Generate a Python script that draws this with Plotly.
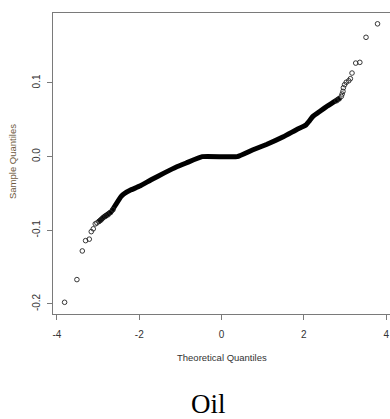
import plotly.graph_objects as go

# Dense central body of the normal Q-Q plot (theoretical, sample quantiles)
band_theoretical = [-3.00, -2.84, -2.68, -2.56, -2.44, -2.36, -2.20, -1.99, -1.70, -1.39,
                    -1.10, -0.86, -0.47, 0.38, 0.75, 1.09, 1.50, 1.82, 2.05, 2.14,
                    2.22, 2.40, 2.58, 2.75, 2.88]
band_sample = [-0.089, -0.081, -0.0745, -0.064, -0.054, -0.050, -0.045, -0.040, -0.031, -0.022,
               -0.014, -0.0086, 0.0, 0.0, 0.009, 0.0165, 0.027, 0.0366, 0.043, 0.049,
               0.0547, 0.062, 0.069, 0.075, 0.080]

# Individually visible observations in both tails
tail_theoretical = [-3.815, -3.516, -3.385, -3.305, -3.215, -3.167, -3.118, -3.07, -3.03,
                    -2.98, -2.93, -2.88, -2.82, -2.76, -2.70, -2.64,
                    2.80, 2.86, 2.91, 2.93, 2.95, 2.96, 2.99, 3.03, 3.09, 3.13, 3.17,
                    3.26, 3.36, 3.51, 3.79]
tail_sample = [-0.1977, -0.1669, -0.128, -0.114, -0.112, -0.1018, -0.098, -0.0913, -0.090,
               -0.088, -0.086, -0.083, -0.081, -0.079, -0.076, -0.072,
               0.076, 0.0785, 0.0818, 0.085, 0.0886, 0.0935, 0.0977, 0.101, 0.103, 0.1058, 0.1135,
               0.127, 0.128, 0.162, 0.1803]

x_ticks = [-4, -2, 0, 2, 4]
x_tick_labels = ["-4", "-2", "0", "2", "4"]
y_ticks = [-0.2, -0.1, 0.0, 0.1]
y_tick_labels = ["-0.2", "-0.1", "0.0", "0.1"]

axis_font = dict(family="Liberation Sans, Arial, sans-serif", size=10, color="#333333")
line_col = "#7a7a7a"

fig = go.Figure()
fig.add_trace(go.Scatter(
    x=band_theoretical, y=band_sample, mode="lines",
    line=dict(color="black", width=5, shape="spline", smoothing=0.3),
    hoverinfo="skip", showlegend=False,
))
fig.add_trace(go.Scatter(
    x=tail_theoretical, y=tail_sample, mode="markers",
    marker=dict(symbol="circle-open", size=4.6, color="#222222", line=dict(width=0.9)),
    showlegend=False,
))

fig.update_layout(
    width=390, height=419,
    margin=dict(l=53, r=0, t=13, b=105),
    paper_bgcolor="white", plot_bgcolor="white",
    showlegend=False,
    xaxis=dict(
        range=[-4.097, 4.093], tickmode="array", tickvals=x_ticks, ticktext=x_tick_labels,
        ticks="outside", ticklen=5, tickwidth=1, tickcolor=line_col, ticklabelstandoff=6,
        showline=True, linecolor=line_col, linewidth=1, mirror=True,
        showgrid=False, zeroline=False, tickfont=axis_font,
    ),
    yaxis=dict(
        range=[-0.2136, 0.195], tickmode="array", tickvals=y_ticks, ticktext=y_tick_labels,
        ticks="outside", ticklen=5, tickwidth=1, tickcolor=line_col, tickangle=-90,
        ticklabelstandoff=3,
        showline=True, linecolor=line_col, linewidth=1, mirror=True,
        showgrid=False, zeroline=False, tickfont=axis_font,
    ),
    annotations=[
        dict(text="Theoretical Quantiles", x=222, y=357, xref="paper", yref="paper",
             showarrow=False, font=dict(family="Liberation Sans, Arial, sans-serif", size=9.5, color="#333333")),
        dict(text="Sample Quantiles", x=12, y=162, textangle=-90, xref="paper", yref="paper",
             showarrow=False, font=dict(family="Liberation Sans, Arial, sans-serif", size=9.5, color="#6e5a3e")),
        dict(text="Oil", x=208, y=404, xref="paper", yref="paper",
             showarrow=False, font=dict(family="Liberation Serif, Times New Roman, serif", size=27, color="black")),
    ],
)

# Annotations are positioned in pixels: convert to paper coordinates
plot_l, plot_r, plot_t, plot_b = 53, 390, 13, 314
for a in fig.layout.annotations:
    px, py = a.x, a.y
    a.x = (px - plot_l) / (plot_r - plot_l)
    a.y = (plot_b - py) / (plot_b - plot_t)
    a.xanchor = "center"
    a.yanchor = "middle"

fig.write_html("out.html", config={"displayModeBar": False})
